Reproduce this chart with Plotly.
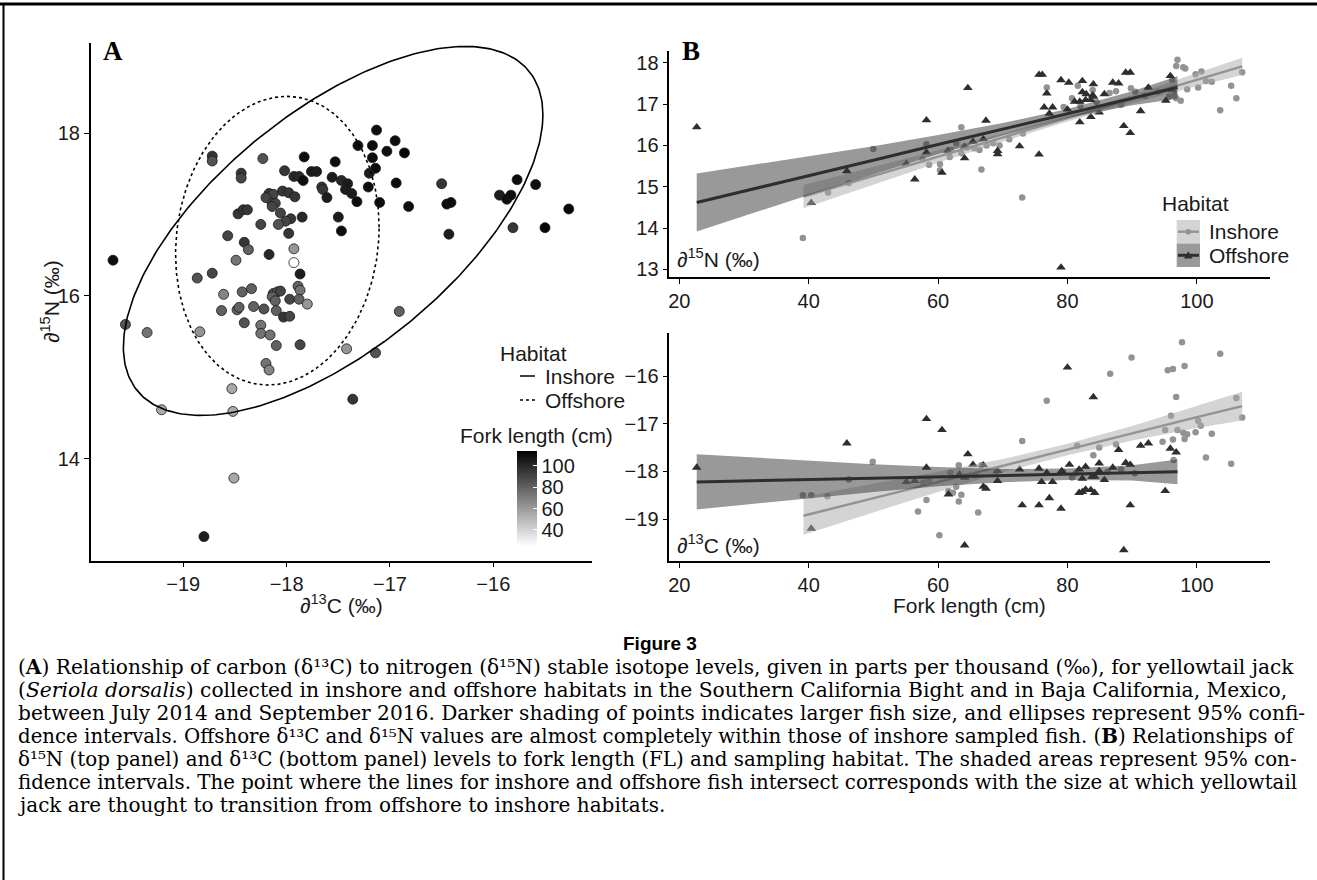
import numpy as np
import plotly.graph_objects as go

W, H = 1317, 880

# ---------------- Panel A data: d13C, d15N, fork length ----------------
a_d13c = [-19.68, -18.72, -18.72, -18.23, -18.44, -18.44, -18.02, -17.93, -17.88, -17.84,
          -17.83, -17.76, -17.71, -17.53, -17.56, -17.66, -17.65, -17.61, -18.17, -18.13,
          -18.04, -17.98, -18.20, -18.14, -18.11, -17.92, -18.14, -18.47, -18.42, -18.38,
          -18.06, -17.96, -18.01, -18.08, -17.85, -18.25, -18.57, -17.98, -18.41, -18.37,
          -18.17, -18.49, -17.93, -17.93, -17.87, -18.865, -18.72, -17.89, -17.87, -18.61,
          -18.43, -18.34, -18.13, -18.09, -18.06, -18.14, -18.11, -17.97, -17.88, -17.80,
          -18.63, -18.48, -18.46, -18.32, -18.22, -18.10, -18.03, -17.97, -19.56, -19.35,
          -18.84, -18.41, -18.25, -18.25, -18.16, -18.10, -17.87, -18.20, -18.17, -18.53,
          -19.21, -18.52, -18.51, -18.80, -17.13, -16.95, -17.31, -17.17, -17.03, -16.86,
          -17.17, -17.14, -17.20, -17.47, -17.41, -17.43, -17.37, -17.32, -17.21, -16.94,
          -17.10, -16.82, -17.50, -17.47, -16.50, -16.45, -16.41, -16.43, -15.77, -15.59,
          -15.94, -15.87, -15.83, -15.27, -15.81, -15.50, -16.91, -17.42, -17.14, -17.36]
a_d15n = [16.44, 17.72, 17.66, 17.69, 17.51, 17.45, 17.54, 17.47, 17.47, 17.42,
          17.71, 17.53, 17.53, 17.65, 17.46, 17.34, 17.31, 17.21, 17.26, 17.25,
          17.29, 17.27, 17.21, 17.14, 17.14, 17.22, 17.10, 17.01, 17.06, 17.06,
          17.02, 16.95, 16.92, 16.88, 16.97, 16.88, 16.74, 16.77, 16.66, 16.57,
          16.51, 16.44, 16.58, 16.41, 16.27, 16.22, 16.28, 16.12, 16.07, 16.02,
          16.05, 16.09, 16.03, 16.05, 16.06, 15.99, 15.94, 15.96, 15.96, 15.90,
          15.82, 15.83, 15.86, 15.87, 15.84, 15.82, 15.74, 15.75, 15.65, 15.55,
          15.56, 15.67, 15.64, 15.54, 15.52, 15.39, 15.40, 15.17, 15.09, 14.86,
          14.60, 14.58, 13.76, 13.04, 18.04, 17.91, 17.85, 17.85, 17.78, 17.76,
          17.70, 17.57, 17.51, 17.42, 17.38, 17.31, 17.26, 17.16, 17.34, 17.39,
          17.15, 17.10, 16.97, 16.80, 17.38, 17.13, 17.15, 16.76, 17.43, 17.37,
          17.24, 17.19, 17.24, 17.07, 16.84, 16.84, 15.81, 15.35, 15.30, 14.73]
a_fl = [109, 95, 85, 85, 95, 90, 95, 100, 100, 109,
        109, 104, 104, 109, 104, 95, 95, 104, 95, 90,
        95, 95, 90, 90, 90, 95, 90, 95, 95, 95,
        90, 95, 90, 85, 100, 90, 90, 95, 95, 80,
        100, 74, 62, 23, 104, 85, 90, 80, 74, 68,
        80, 80, 85, 85, 90, 80, 80, 90, 80, 62,
        80, 80, 80, 80, 85, 80, 95, 90, 85, 74,
        62, 85, 74, 74, 74, 80, 90, 74, 68, 55,
        55, 55, 55, 104, 109, 109, 109, 109, 109, 112,
        109, 109, 104, 100, 104, 104, 104, 109, 109, 109,
        109, 109, 104, 109, 95, 109, 109, 104, 109, 109,
        104, 109, 109, 112, 95, 112, 80, 62, 85, 95]

# 95% ellipses: centre and shape matrix (d13C, d15N)
ell_in_center = [-17.55, 16.80]
ell_in_shape = [[4.12, 2.90], [2.90, 5.15]]
ell_off_center = [-18.09, 16.68]
ell_off_shape = [[0.970, 0.162], [0.162, 3.151]]

# ---------------- Panel B top: fork length vs d15N ----------------
bt_in_fl = [39.1, 43.0, 46.2, 50.0, 57.6, 58.2, 58.6, 60.3, 60.3, 61.8, 62.0, 62.8, 63.6, 63.6,
            64.5, 65.6, 66.4, 66.7, 67.5, 68.5, 69.5, 71.0, 73.1, 73.0, 76.8, 79.4, 80.7, 81.6,
            82.0, 83.9, 84.5, 86.5, 87.5, 88.3, 89.8, 90.5, 92.0, 94.0, 95.7, 96.2, 96.5, 96.8,
            96.8, 97.0, 97.5, 97.9, 98.2, 98.5, 99.8, 100.2, 100.7, 101.4, 102.3, 103.6, 105.3,
            106.1, 107.0]
bt_in_n = [13.76, 14.86, 15.09, 15.91, 15.66, 16.03, 15.53, 15.55, 15.40, 15.72, 15.89, 16.05, 15.81, 16.44,
           15.95, 15.93, 15.89, 15.42, 16.00, 16.05, 16.00, 16.15, 16.29, 14.74, 17.40, 16.93, 17.14, 17.44,
           16.95, 17.34, 17.05, 17.27, 17.31, 16.98, 17.38, 17.30, 17.20, 17.30, 17.18, 17.58, 17.22, 17.14,
           17.92, 18.07, 17.08, 17.89, 17.86, 17.36, 17.72, 17.40, 17.79, 17.56, 17.54, 16.85, 17.44,
           17.14, 17.77]
bt_off_fl = [22.7, 40.4, 45.9, 55.1, 56.4, 58.2, 58.2, 60.6, 61.5, 64.1, 64.1, 64.6, 65.4, 67.0,
             67.4, 69.2, 69.2, 72.6, 75.6, 75.6, 76.1, 76.4, 76.8, 77.2, 77.7, 79.0, 79.0, 80.0,
             80.2, 81.1, 81.9, 81.9, 82.3, 82.3, 82.8, 82.9, 83.6, 83.6, 83.9, 84.0, 84.0, 84.9,
             85.7, 87.0, 87.9, 88.7, 89.0, 89.7, 89.7, 91.3, 92.5, 95.2, 95.9, 96.2]
bt_off_n = [16.44, 14.61, 15.38, 15.56, 15.18, 15.83, 16.61, 15.34, 15.87, 15.69, 15.97, 17.39, 16.09, 16.15,
            16.60, 15.87, 15.79, 15.98, 15.78, 17.71, 17.71, 16.92, 17.26, 16.77, 16.92, 17.58, 13.05, 16.87,
            17.52, 17.06, 17.06, 16.56, 17.56, 17.29, 17.10, 17.24, 16.69, 17.10, 17.21, 17.48, 17.18, 16.80,
            17.24, 17.52, 17.50, 16.47, 17.76, 17.76, 16.30, 16.83, 17.40, 17.08, 17.68, 17.34]

# fitted lines and 95% bands
fit_in_fl = [39.2, 50, 60, 70, 80, 90, 100, 107]
fit_off_fl = [22.7, 30, 40, 50, 60, 70, 80, 90, 97]
bt_in_fit = [14.76, 15.26, 15.73, 16.19, 16.66, 17.12, 17.59, 17.91]
bt_in_lo = [14.48, 15.05, 15.58, 16.09, 16.58, 17.02, 17.43, 17.70]
bt_in_hi = [15.04, 15.47, 15.88, 16.29, 16.74, 17.22, 17.75, 18.12]
bt_off_fit = [14.62, 14.89, 15.27, 15.64, 16.02, 16.39, 16.77, 17.14, 17.40]
bt_off_lo = [13.92, 14.29, 14.80, 15.30, 15.79, 16.24, 16.66, 16.97, 17.13]
bt_off_hi = [15.32, 15.49, 15.74, 15.98, 16.25, 16.54, 16.88, 17.31, 17.67]

# ---------------- Panel B bottom: fork length vs d13C ----------------
bb_in_fl = [39.1, 40.4, 42.9, 46.2, 49.9, 56.9, 57.7, 58.2, 58.6, 60.2, 61.6, 61.9, 62.3, 62.8,
            63.2, 63.2, 63.6, 64.4, 65.8, 66.2, 66.7, 69.0, 73.0, 76.8, 79.3, 80.7, 81.3, 81.5,
            84.0, 84.9, 86.2, 86.6, 87.5, 88.3, 89.9, 90.4, 94.7, 95.1, 95.5, 96.0, 96.3, 96.3,
            96.4, 96.8, 97.0, 97.7, 97.9, 98.1, 98.1, 98.5, 99.8, 100.2, 100.6, 101.4, 102.3,
            103.6, 105.3, 106.1, 107.0]
bb_in_c = [-18.50, -18.50, -18.52, -18.17, -17.80, -18.84, -18.24, -18.60, -18.18, -19.34, -18.41, -18.03, -18.45, -18.32,
           -17.87, -18.63, -18.49, -18.11, -18.08, -18.86, -17.87, -17.99, -17.36, -16.52, -18.01, -18.13, -18.04, -17.46,
           -17.66, -17.50, -18.01, -15.95, -17.43, -17.96, -15.61, -18.04, -17.38, -17.13, -15.88, -16.83, -15.85, -17.33,
           -17.76, -16.44, -17.13, -15.29, -17.19, -15.79, -17.32, -17.22, -17.18, -16.94, -17.04, -17.71, -17.21,
           -15.53, -17.84, -16.46, -16.87]
bb_off_fl = [22.7, 40.4, 45.9, 55.1, 56.4, 58.2, 58.2, 60.6, 61.6, 63.3, 64.1, 64.1, 64.6, 65.4,
             67.0, 67.0, 67.4, 69.2, 69.2, 72.6, 73.0, 75.6, 75.6, 76.0, 76.8, 77.2, 77.7, 79.0,
             79.1, 80.0, 80.3, 81.8, 81.8, 82.3, 82.3, 82.8, 82.8, 83.6, 83.8, 84.0, 84.2, 84.2,
             84.9, 84.9, 85.7, 87.0, 87.9, 88.7, 89.0, 89.7, 89.7, 91.3, 92.5, 95.1, 95.9, 96.8]
bb_off_c = [-17.92, -19.20, -17.41, -18.22, -18.20, -16.90, -17.92, -17.13, -18.48, -18.06, -18.13, -19.55, -17.64, -17.86,
            -17.87, -18.32, -18.36, -18.20, -17.99, -17.96, -18.71, -18.71, -17.94, -18.22, -18.03, -18.56, -18.22, -18.78,
            -17.99, -15.82, -17.86, -17.96, -18.45, -18.15, -18.43, -17.90, -18.38, -18.39, -18.11, -16.44, -18.45, -18.11,
            -17.83, -17.99, -18.18, -17.92, -17.55, -19.65, -17.82, -17.86, -18.71, -17.46, -17.41, -18.41, -17.52, -17.60]
bb_in_fit = [-18.93, -18.56, -18.22, -17.88, -17.54, -17.20, -16.86, -16.63]
bb_in_lo = [-19.33, -18.86, -18.43, -18.02, -17.66, -17.35, -17.09, -16.93]
bb_in_hi = [-18.53, -18.26, -18.01, -17.74, -17.42, -17.05, -16.63, -16.33]
bb_off_fit = [-18.22, -18.20, -18.17, -18.14, -18.11, -18.09, -18.06, -18.03, -18.01]
bb_off_lo = [-18.80, -18.70, -18.56, -18.43, -18.31, -18.23, -18.18, -18.19, -18.27]
bb_off_hi = [-17.64, -17.70, -17.78, -17.85, -17.91, -17.95, -17.94, -17.87, -17.75]

# tick labels
a_xticks = [-19, -18, -17, -16]
a_yticks = [14, 16, 18]
b_xticks = [20, 40, 60, 80, 100]
bt_yticks = [13, 14, 15, 16, 17, 18]
bb_yticks = [-19, -18, -17, -16]
cb_ticks = [40, 60, 80, 100]

caption_lines = [
    "(<b>A</b>) Relationship of carbon (δ¹³C) to nitrogen (δ¹⁵N) stable isotope levels, given in parts per thousand (‰), for yellowtail jack",
    "(<i>Seriola dorsalis</i>) collected in inshore and offshore habitats in the Southern California Bight and in Baja California, Mexico,",
    "between July 2014 and September 2016. Darker shading of points indicates larger fish size, and ellipses represent 95% confi-",
    "dence intervals. Offshore δ¹³C and δ¹⁵N values are almost completely within those of inshore sampled fish. (<b>B</b>) Relationships of",
    "δ¹⁵N (top panel) and δ¹³C (bottom panel) levels to fork length (FL) and sampling habitat. The shaded areas represent 95% con-",
    "fidence intervals. The point where the lines for inshore and offshore fish intersect corresponds with the size at which yellowtail",
    "jack are thought to transition from offshore to inshore habitats.",
]
# per-line font sizes so that justified lines reach the right margin
caption_sizes = [20.15, 20.25, 20.15, 19.75, 19.85, 19.75, 20.0]
caption_y = [667, 690, 713, 736, 759, 782, 805]

# ---------------- styles ----------------
SANS = "Liberation Sans"
SERIF = "Liberation Serif"
CAP = "DejaVu Serif"
TXT = "#1a1a1a"
IN_COL = "#939393"
OFF_COL = "#2e2e2e"
IN_FILL = "rgba(170,170,170,0.5)"
OFF_FILL = "rgba(51,51,51,0.5)"


def px(x):
    return x / W


def py(y):
    return 1 - y / H


def minus(v):
    s = f"{v:g}"
    return s.replace("-", "\u2212")


fig = go.Figure()

# Panel A points
fig.add_trace(go.Scatter(
    x=a_d13c, y=a_d15n, mode="markers", xaxis="x", yaxis="y", showlegend=False,
    marker=dict(size=10, color=a_fl, colorscale=[[0, "#ffffff"], [1, "#000000"]],
                cmin=25, cmax=114, line=dict(color="#1a1a1a", width=0.8),
                colorbar=dict(x=px(517.3), xanchor="left", y=py(546), yanchor="bottom",
                              len=95.3 / H, lenmode="fraction", thickness=20, thicknessmode="pixels",
                              outlinewidth=0, xpad=0, ypad=0, tickmode="array", tickvals=cb_ticks,
                              ticktext=[str(t) for t in cb_ticks], ticks="inside", ticklen=4,
                              tickcolor="white", tickwidth=1,
                              tickfont=dict(family=SANS, size=20, color=TXT)))))

# Panel A ellipses
t = np.linspace(0, 2 * np.pi, 300)
for c, m, dash in [(ell_in_center, ell_in_shape, "solid"), (ell_off_center, ell_off_shape, "dot")]:
    L = np.linalg.cholesky(np.array(m))
    pts = L @ np.vstack([np.cos(t), np.sin(t)])
    fig.add_trace(go.Scatter(x=c[0] + pts[0], y=c[1] + pts[1], mode="lines", xaxis="x", yaxis="y",
                             line=dict(color="black", width=1.6, dash=dash), showlegend=False,
                             hoverinfo="skip"))


def add_panel(xa, ya, in_fl, in_y, off_fl, off_y, in_fit, in_lo, in_hi, off_fit, off_lo, off_hi):
    fig.add_trace(go.Scatter(x=in_fl, y=in_y, mode="markers", xaxis=xa, yaxis=ya, showlegend=False,
                             marker=dict(symbol="circle", size=6.5, color=IN_COL)))
    fig.add_trace(go.Scatter(x=off_fl, y=off_y, mode="markers", xaxis=xa, yaxis=ya, showlegend=False,
                             marker=dict(symbol="triangle-up", size=8.5, color=OFF_COL)))
    fig.add_trace(go.Scatter(x=fit_in_fl + fit_in_fl[::-1], y=in_hi + in_lo[::-1], fill="toself",
                             fillcolor=IN_FILL, line=dict(width=0), mode="lines", xaxis=xa, yaxis=ya,
                             showlegend=False, hoverinfo="skip"))
    fig.add_trace(go.Scatter(x=fit_in_fl, y=in_fit, mode="lines", xaxis=xa, yaxis=ya, showlegend=False,
                             line=dict(color=IN_COL, width=2.4)))
    fig.add_trace(go.Scatter(x=fit_off_fl + fit_off_fl[::-1], y=off_hi + off_lo[::-1], fill="toself",
                             fillcolor=OFF_FILL, line=dict(width=0), mode="lines", xaxis=xa, yaxis=ya,
                             showlegend=False, hoverinfo="skip"))
    fig.add_trace(go.Scatter(x=fit_off_fl, y=off_fit, mode="lines", xaxis=xa, yaxis=ya, showlegend=False,
                             line=dict(color=OFF_COL, width=3)))


add_panel("x2", "y2", bt_in_fl, bt_in_n, bt_off_fl, bt_off_n,
          bt_in_fit, bt_in_lo, bt_in_hi, bt_off_fit, bt_off_lo, bt_off_hi)
add_panel("x3", "y3", bb_in_fl, bb_in_c, bb_off_fl, bb_off_c,
          bb_in_fit, bb_in_lo, bb_in_hi, bb_off_fit, bb_off_lo, bb_off_hi)


def axis(domain, rng, ticks, anchor):
    return dict(domain=domain, range=rng, anchor=anchor, tickmode="array", tickvals=ticks,
                ticktext=[minus(v) for v in ticks], showline=True, linecolor="black", linewidth=1.5,
                ticks="outside", ticklen=5, tickwidth=1.2, tickcolor="black", showgrid=False,
                zeroline=False, fixedrange=True, tickfont=dict(family=SANS, size=20, color=TXT))


xA = [px(90.7), px(591.7)]
xB = [px(669.3), px(1270)]
layout = dict(
    width=W, height=H, margin=dict(l=0, r=0, t=0, b=0, autoexpand=False),
    paper_bgcolor="white", plot_bgcolor="white", showlegend=False,
    xaxis=axis(xA, [-19.896, -15.048], a_xticks, "y"),
    yaxis=axis([py(560.5), py(43.3)], [12.746, 19.108], a_yticks, "x"),
    xaxis2=axis(xB, [18.46, 111.3], b_xticks, "y2"),
    yaxis2=axis([py(277.3), py(50.7)], [12.81, 18.29], bt_yticks, "x2"),
    xaxis3=axis(xB, [18.46, 111.3], b_xticks, "y3"),
    yaxis3=axis([py(561), py(332.7)], [-19.88, -15.09], bb_yticks, "x3"),
)
fig.update_layout(**layout)

ann = []


def note(x, y, text, size=21, family=SANS, xanchor="center", color=TXT, angle=0):
    ann.append(dict(x=px(x), y=py(y), xref="paper", yref="paper", text=text, showarrow=False,
                    xanchor=xanchor, yanchor="middle", textangle=angle,
                    font=dict(family=family, size=size, color=color)))


note(341.2, 604, "∂<sup>13</sup>C (‰)")
note(50, 302, "∂<sup>15</sup>N (‰)", angle=-90)
note(969.7, 605, "Fork length (cm)")
note(675, 258, "∂<sup>15</sup>N (‰)", xanchor="left")
note(675, 544, "∂<sup>13</sup>C (‰)", xanchor="left")
note(112.5, 51, "<b>A</b>", size=27, family=SERIF, color="black")
note(691, 51, "<b>B</b>", size=27, family=SERIF, color="black")
# legend A
note(498.3, 353, "Habitat", xanchor="left")
note(543.3, 376, "Inshore", xanchor="left")
note(543.3, 400, "Offshore", xanchor="left")
note(458.3, 435, "Fork length (cm)", xanchor="left")
# legend B
note(1160, 203.3, "Habitat", xanchor="left")
note(1206.7, 231.7, "Inshore", xanchor="left")
note(1206.7, 255.3, "Offshore", xanchor="left")
# caption
note(660, 643, "<b>Figure 3</b>", size=19, color="black")
for yy, sz, line in zip(caption_y, caption_sizes, caption_lines):
    note(16, yy, line, size=sz, family=CAP, xanchor="left", color="black")
fig.update_layout(annotations=ann)

shapes = []


def pline(x0, y0, x1, y1, color="black", width=1.5, dash="solid"):
    shapes.append(dict(type="line", xref="paper", yref="paper", x0=px(x0), y0=py(y0), x1=px(x1), y1=py(y1),
                       line=dict(color=color, width=width, dash=dash)))


# page frame (top and left rules)
pline(0, 4, W, 4, width=3)
pline(3.5, 4, 3.5, H, width=2)
# legend A keys
pline(520, 376, 535, 376, width=1.5)
pline(520, 400, 535, 400, width=1.5, dash="dot")
# legend B keys
for (y0, y1, fill) in [(220, 243.5, "#d4d4d4"), (243.5, 267, "#999999")]:
    shapes.append(dict(type="rect", xref="paper", yref="paper", x0=px(1176.7), x1=px(1200),
                       y0=py(y1), y1=py(y0), fillcolor=fill, line=dict(width=0)))
pline(1178, 231.7, 1199, 231.7, color=IN_COL, width=2.4)
pline(1178, 255.3, 1199, 255.3, color=OFF_COL, width=3)
shapes.append(dict(type="circle", xref="paper", yref="paper", x0=px(1185.5), x1=px(1191.1),
                   y0=py(234.5), y1=py(228.9), fillcolor=IN_COL, line=dict(width=0)))
tri = f"M {px(1188.3)},{py(251.3)} L {px(1192.6)},{py(258.5)} L {px(1184.0)},{py(258.5)} Z"
shapes.append(dict(type="path", xref="paper", yref="paper", path=tri, fillcolor=OFF_COL, line=dict(width=0)))
fig.update_layout(shapes=shapes)

fig.write_html("out.html", config={"displayModeBar": False},
               post_script="document.body.style.margin='0';document.body.style.overflow='hidden';")
